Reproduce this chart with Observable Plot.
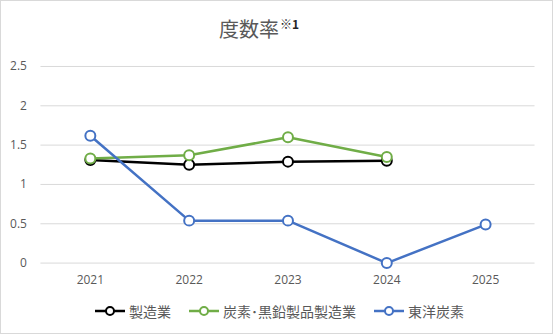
<!DOCTYPE html>
<html><head><meta charset="utf-8">
<script src="https://cdn.jsdelivr.net/npm/d3@7"></script>
<script src="https://cdn.jsdelivr.net/npm/@observablehq/plot@0.6"></script>
<style>
html,body{margin:0;padding:0;background:#fff;}
#wrap{position:relative;width:553px;height:334px;box-sizing:border-box;border:1px solid #d9d9d9;overflow:hidden;font-family:"Noto Sans CJK JP","Noto Sans",sans-serif;}
#title{position:absolute;left:0;top:14px;width:516px;text-align:center;font-size:20px;color:#595959;line-height:28px;}
#title sup{font-size:12px;font-weight:bold;color:#262626;vertical-align:0;position:relative;top:-8px;margin-left:1px;}
#chart{position:absolute;left:-1px;top:49px;}
#legend{position:absolute;left:0;top:300px;width:553px;height:20px;}
.item{position:absolute;top:0;height:20px;display:flex;align-items:center;font-size:14px;color:#595959;white-space:nowrap;}
.item svg{margin-right:3px;}
</style></head>
<body>
<div id="wrap">
  <div id="title">度数率<sup>※1</sup></div>
  <div id="chart"></div>
  <div id="legend"></div>
</div>
<script>
const years = ["2021","2022","2023","2024","2025"];
const seriesNames = ["製造業","炭素･黒鉛製品製造業","東洋炭素"];
const seriesColors = ["#000000","#70AD47","#4472C4"];
const manufacturing = [1.31, 1.25, 1.29, 1.30, null];
const carbonGraphite = [1.33, 1.37, 1.60, 1.35, null];
const toyoTanso = [1.62, 0.54, 0.54, 0.00, 0.49];
const yTicks = [0, 0.5, 1, 1.5, 2, 2.5];

const allValues = [manufacturing, carbonGraphite, toyoTanso];
const data = [];
allValues.forEach((vals, si) => {
  vals.forEach((v, i) => {
    if (v != null) data.push({series: seriesNames[si], year: years[i], value: v});
  });
});

const marks = [
  Plot.ruleY(yTicks, {stroke: "#d9d9d9", strokeWidth: 1}),
  Plot.axisY({ticks: yTicks, tickSize: 0, tickPadding: 14, fontSize: 12, fill: "#595959", tickFormat: d => String(d)}),
  Plot.axisX({tickSize: 0, tickPadding: 12, fontSize: 12, fill: "#595959"})
];
seriesNames.forEach((name, si) => {
  const d = data.filter(r => r.series === name);
  marks.push(Plot.line(d, {x: "year", y: "value", stroke: seriesColors[si], strokeWidth: 2.5}));
  marks.push(Plot.dot(d, {x: "year", y: "value", r: 5, fill: "white", stroke: seriesColors[si], strokeWidth: 2}));
});

const plot = Plot.plot({
  width: 553,
  height: 243,
  marginTop: 16,
  marginBottom: 30,
  marginLeft: 40.5,
  marginRight: 17.5,
  style: {fontFamily: "'Open Sans','Noto Sans',sans-serif", background: "transparent", overflow: "visible"},
  x: {type: "point", domain: years, padding: 0.5, label: null},
  y: {domain: [0, 2.5], label: null},
  marks
});
document.getElementById("chart").appendChild(plot);

// legend
const legend = document.getElementById("legend");
const lefts = [93, 187, 372];
seriesNames.forEach((name, si) => {
  const it = document.createElement("div");
  it.className = "item";
  it.style.left = lefts[si] + "px";
  it.innerHTML = `<svg width="32" height="14"><line x1="1" x2="31" y1="7" y2="7" stroke="${seriesColors[si]}" stroke-width="2.5"/><circle cx="16" cy="7" r="4" fill="white" stroke="${seriesColors[si]}" stroke-width="2"/></svg><span>${name}</span>`;
  legend.appendChild(it);
});
</script>
</body></html>
